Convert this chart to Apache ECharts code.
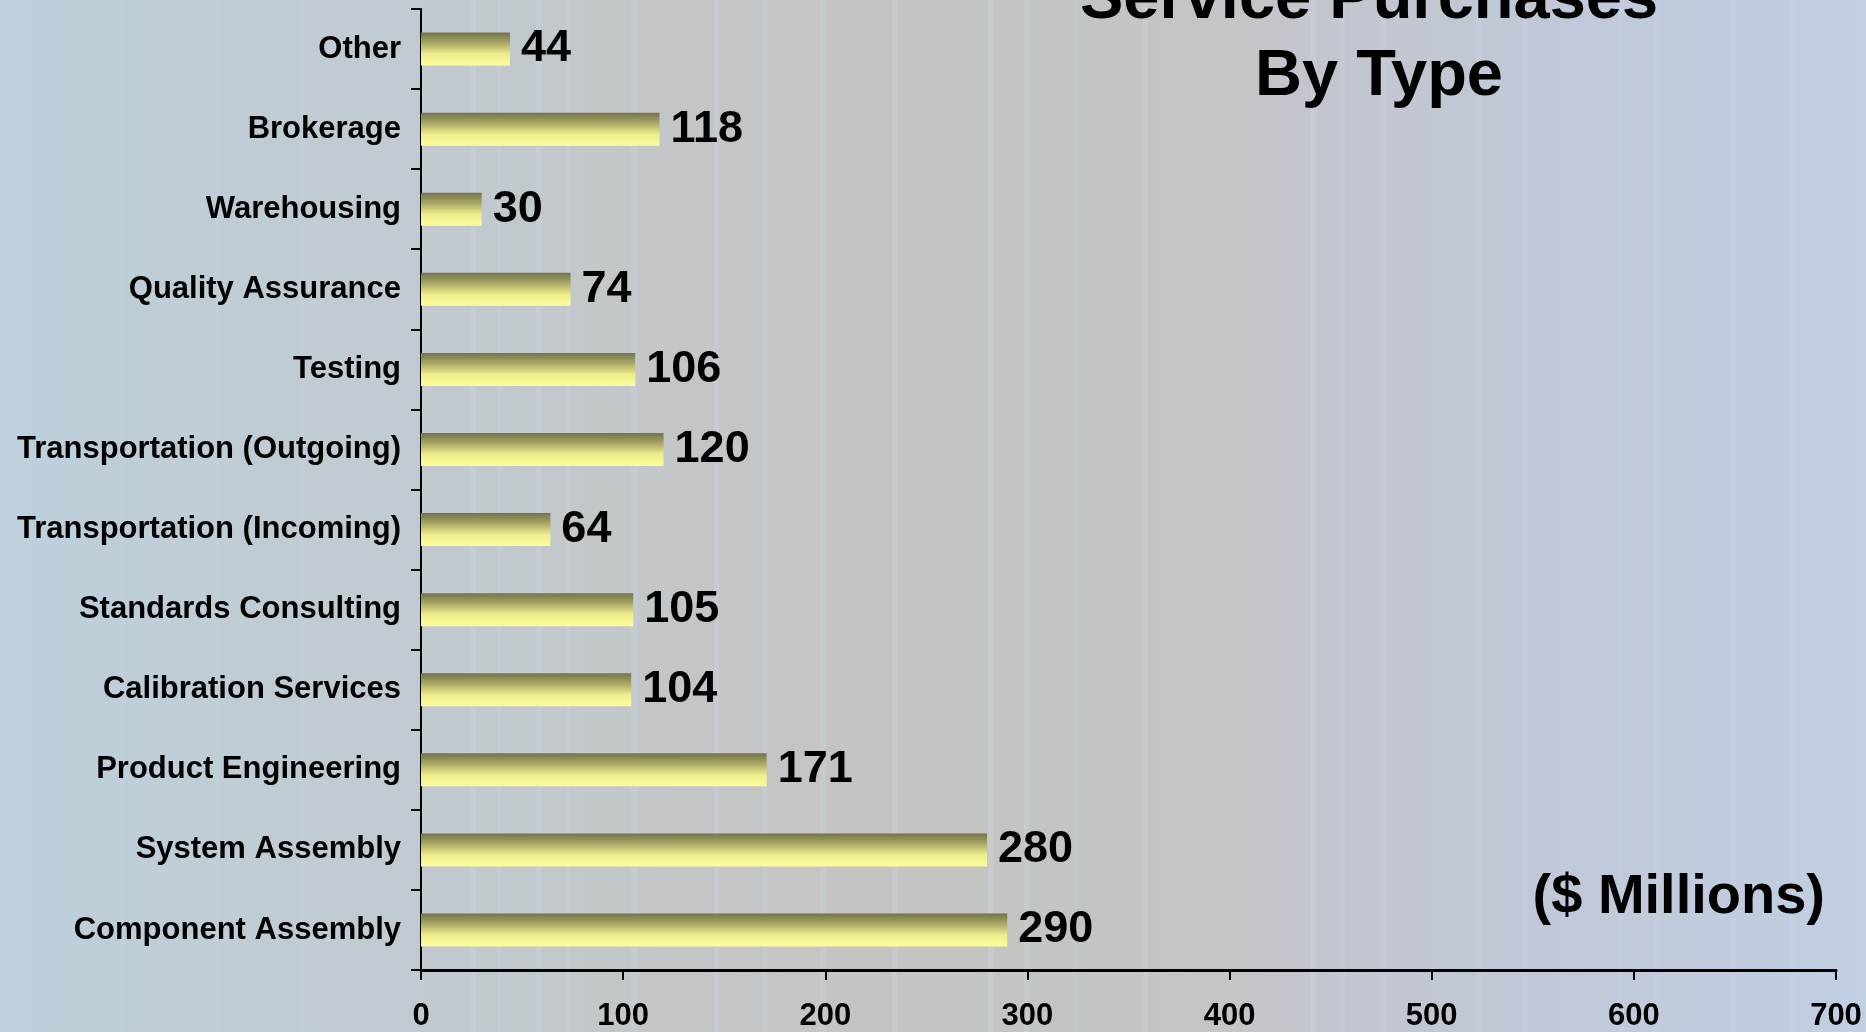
<!DOCTYPE html>
<html>
<head>
<meta charset="utf-8">
<title>Service Purchases By Type</title>
<script src="https://cdn.jsdelivr.net/npm/echarts@6/dist/echarts.min.js"></script>
<style>
  html, body { margin: 0; padding: 0; width: 100%; height: 100%; overflow: hidden; }
  #chart { width: 1866px; height: 1032px; }
</style>
</head>
<body>
<div id="chart"></div>
<script>
// Service categories, listed from the bottom of the chart to the top
const categories = [
  'Component Assembly',
  'System Assembly',
  'Product Engineering',
  'Calibration Services',
  'Standards Consulting',
  'Transportation (Incoming)',
  'Transportation (Outgoing)',
  'Testing',
  'Quality Assurance',
  'Warehousing',
  'Brokerage',
  'Other'
];

// Purchases per category, $ millions
const purchases = [290, 280, 171, 104, 105, 64, 120, 106, 74, 30, 118, 44];

// Value axis ticks
const axisMin = 0;
const axisMax = 700;
const axisStep = 100;

const titleLines = ['Service Purchases', 'By Type'];
const unitsNote = '($ Millions)';

// Faint vertical streaks in the backdrop: [x, width, opacity]
const streaks = [
  [470, 6, 0.22], [497, 4, 0.18], [536, 5, 0.22], [566, 4, 0.18], [631, 6, 0.22],
  [714, 5, 0.25], [762, 5, 0.22], [820, 6, 0.22], [892, 5, 0.22], [988, 6, 0.25],
  [1024, 5, 0.22], [1072, 5, 0.18], [1142, 6, 0.22], [1310, 6, 0.25], [1340, 5, 0.22],
  [1380, 6, 0.18], [1476, 6, 0.22], [1523, 5, 0.18], [1618, 6, 0.18], [1655, 5, 0.18],
  [1730, 6, 0.15], [1790, 5, 0.15], [300, 5, 0.12], [215, 4, 0.10], [120, 5, 0.10]
];

const FONT = '"Liberation Sans", Arial, Helvetica, sans-serif';

const chart = echarts.init(document.getElementById('chart'), null, { renderer: 'canvas' });

const streakShapes = streaks.map(([x, w, o]) => ({
  type: 'rect',
  silent: true,
  z: -10,
  shape: { x: x, y: 0, width: w, height: 1032 },
  style: { fill: 'rgba(205,222,238,' + o + ')' }
}));

const titleStyle = {
  fontFamily: FONT,
  fontWeight: 'bold',
  fontSize: 65,
  lineHeight: 77,
  color: '#000'
};

const option = {
  backgroundColor: {
    type: 'linear', x: 0, y: 0, x2: 1, y2: 0,
    colorStops: [
      { offset: 0.00, color: '#bdd0dc' },
      { offset: 0.22, color: '#c1cad0' },
      { offset: 0.45, color: '#c4c4c3' },
      { offset: 0.62, color: '#c4c4c4' },
      { offset: 0.82, color: '#c0c8d8' },
      { offset: 1.00, color: '#c1cfe2' }
    ]
  },
  animation: false,
  title: [
    { text: titleLines[0], left: 1364, top: -43, textAlign: 'center', textStyle: titleStyle },
    { text: titleLines[1], left: 1374, top: 34, textAlign: 'center', textStyle: titleStyle }
  ],
  graphic: streakShapes.concat([
    {
      type: 'text',
      right: 41,
      top: 870,
      z: 10,
      style: {
        text: unitsNote,
        fontFamily: FONT,
        fontWeight: 'bold',
        fontSize: 56,
        fill: '#000'
      }
    }
  ]),
  grid: {
    left: 421,
    right: 30,
    top: 9,
    bottom: 57,
    containLabel: false
  },
  xAxis: {
    type: 'value',
    min: axisMin,
    max: axisMax,
    interval: axisStep,
    axisLine: { show: true, lineStyle: { color: '#000', width: 3 } },
    axisTick: { show: true, length: 10, lineStyle: { color: '#000', width: 2 } },
    splitLine: { show: false },
    axisLabel: {
      margin: 31,
      fontFamily: FONT,
      fontWeight: 'bold',
      fontSize: 31,
      color: '#000'
    }
  },
  yAxis: {
    type: 'category',
    data: categories,
    boundaryGap: true,
    axisLine: { show: true, lineStyle: { color: '#000', width: 2 } },
    axisTick: { show: true, length: 10, lineStyle: { color: '#000', width: 2 } },
    axisLabel: {
      margin: 20,
      fontFamily: FONT,
      fontWeight: 'bold',
      fontSize: 31,
      color: '#000'
    }
  },
  series: [
    {
      type: 'bar',
      data: purchases,
      barWidth: 33,
      itemStyle: {
        color: {
          type: 'linear', x: 0, y: 0, x2: 0, y2: 1,
          colorStops: [
            { offset: 0.00, color: '#74734a' },
            { offset: 0.30, color: '#a6a463' },
            { offset: 0.65, color: '#eeec8c' },
            { offset: 1.00, color: '#fdfc9c' }
          ]
        }
      },
      label: {
        show: true,
        position: 'right',
        distance: 11,
        fontFamily: FONT,
        fontWeight: 'bold',
        fontSize: 45,
        color: '#000'
      }
    }
  ]
};

chart.setOption(option);
</script>
</body>
</html>
